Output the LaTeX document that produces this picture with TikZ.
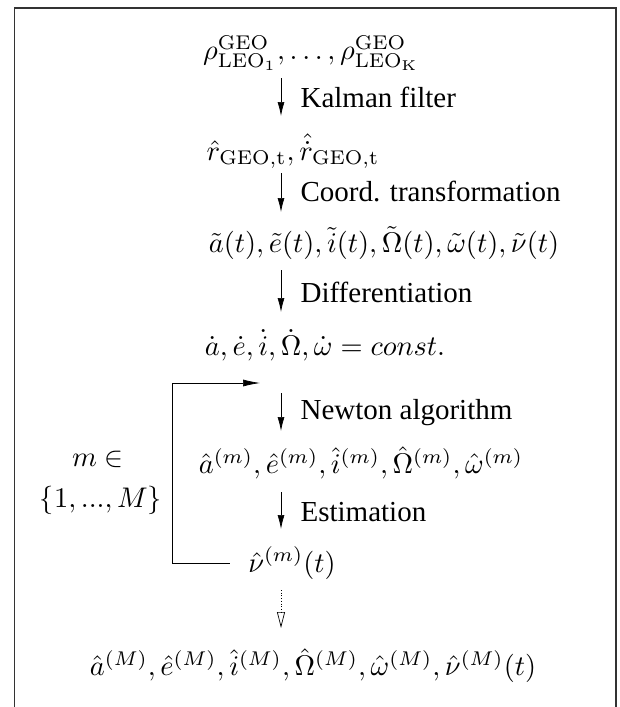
\documentclass[tikz,border=0pt]{standalone}
\usepackage{amsmath}
\usepackage[no-math]{fontspec}
\setmainfont{Liberation Serif}
\usepackage{tikz}
\usetikzlibrary{arrows.meta,positioning}

\begin{document}
\begin{tikzpicture}[x=1pt,y=-1pt,
  every node/.style={scale=2.84,inner sep=0pt},
  flow/.style={line width=0.7pt,-{Latex[length=14pt,width=7pt]}},
  back/.style={line width=0.7pt,-{Latex[length=17pt,width=7pt]}},
  done/.style={line width=0.7pt,dotted,-{Triangle[open,length=16pt,width=8pt,line width=0.7pt]}},
  stepname/.style={anchor=west,scale=2.9/2.84}]
\pgfmathsetmacro{\ax}{281}
\pgfmathsetmacro{\lx}{300}

\useasboundingbox (0,0) rectangle (619,707);
\draw[line width=1.3pt,black!80] (14.5,707)--(14.5,8)--(616,8)--(616,707);

% quantities
\node (rho) at (311,53)
{$\rho^{\mathrm{GEO}}_{\mathrm{LEO_1}},\ldots,\rho^{\mathrm{GEO}}_{\mathrm{LEO_K}}$};
\node (pos) at (293,151)
{$\hat{r}_{\mathrm{GEO,t}},\hat{\dot{r}}_{\mathrm{GEO,t}}$};
\node (osc) at (384,243)
{$\tilde{a}(t),\tilde{e}(t),\tilde{i}(t),\tilde{\Omega}(t),\tilde{\omega}(t),\tilde{\nu}(t)$};
\node (rate) at (325,345)
{$\dot{a},\dot{e},\dot{i},\dot{\Omega},\dot{\omega}=const.$};
\node (est) at (361,463)
{$\hat{a}^{(m)},\hat{e}^{(m)},\hat{i}^{(m)},\hat{\Omega}^{(m)},\hat{\omega}^{(m)}$};
\node (nu) at (292,563) {$\hat{\nu}^{(m)}(t)$};
\node (res) at (313,666)
{$\hat{a}^{(M)},\hat{e}^{(M)},\hat{i}^{(M)},\hat{\Omega}^{(M)},\hat{\omega}^{(M)},\hat{\nu}^{(M)}(t)$};

\node (m1) at (98,459) {$m\in$};
\node (m2) at (101,500) {$\{1,...,M\}$};

% steps
\coordinate (s1) at (\ax,78);  \coordinate (e1) at (\ax,116);
\coordinate (s2) at (\ax,173); \coordinate (e2) at (\ax,212);
\coordinate (s3) at (\ax,270); \coordinate (e3) at (\ax,312);
\coordinate (s4) at (\ax,393); \coordinate (e4) at (\ax,431);
\coordinate (s5) at (\ax,492); \coordinate (e5) at (\ax,529);
\coordinate (s6) at (\ax,590); \coordinate (e6) at (\ax,628);

\draw[flow] (s1)--(e1);
\draw[flow] (s2)--(e2);
\draw[flow] (s3)--(e3);
\draw[flow] (s4)--(e4);
\draw[flow] (s5)--(e5);
\draw[done] (s6)--(e6);

\node[stepname] (kf) at (\lx,97) {Kalman filter};
\node[stepname] (ct) at (\lx,191) {Coord. transformation};
\node[stepname] (df) at (\lx,292) {Differentiation};
\node[stepname] (nw) at (\lx,413) {Newton algorithm};
\node[stepname] (es) at (\lx,512) {Estimation};

% iteration loop
\coordinate (lc) at (172,383);
\coordinate (lin) at (260,383);
\draw[back] ([xshift=-18pt]nu.west) -| (lc) -- (lin);
\end{tikzpicture}
\end{document}
